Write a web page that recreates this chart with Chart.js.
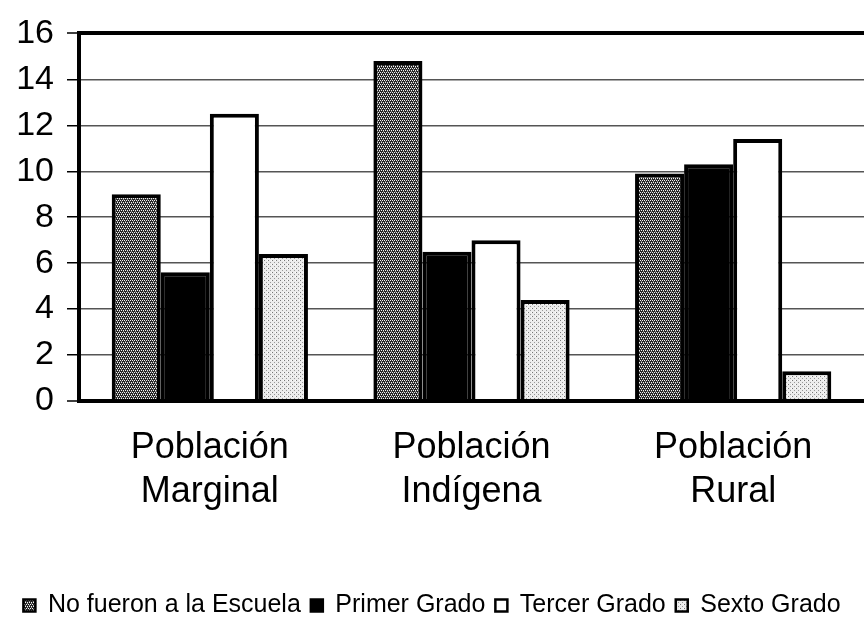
<!DOCTYPE html>
<html>
<head>
<meta charset="utf-8">
<script src="https://cdn.jsdelivr.net/npm/chart.js@4.4.1/dist/chart.umd.min.js"></script>
<style>
html, body { margin: 0; padding: 0; background: #fff; }
#wrap { width: 864px; height: 628px; }
</style>
</head>
<body>
<div id="wrap"><canvas id="myChartEscuela"></canvas></div>
<script>
// datos
var categorias = [['Población', 'Marginal'], ['Población', 'Indígena'], ['Población', 'Rural']];
var noFueron = [9.0, 14.8, 9.9];
var primerGrado = [5.6, 6.5, 10.3];
var tercerGrado = [12.5, 7.0, 11.4];
var sextoGrado = [6.4, 4.4, 1.3];
var yMin = 0, yMax = 16, yPaso = 2;

// tramas tipo impresora
function trama(fondo, puntos) {
    var c = document.createElement('canvas');
    c.width = 4; c.height = 4;
    var g = c.getContext('2d');
    g.fillStyle = fondo;
    g.fillRect(0, 0, 4, 4);
    puntos.forEach(function (p) {
        g.fillStyle = p[2];
        g.fillRect(p[0], p[1], 1, 1);
    });
    return g.createPattern(c, 'repeat');
}
var tramaOscura = trama('#262626', [[0, 0, '#f4f4f4'], [2, 0, '#f4f4f4'], [1, 2, '#f4f4f4'], [3, 2, '#f4f4f4'], [1, 1, '#888'], [3, 3, '#888']]);
var tramaClara = trama('#ececec', [[0, 0, '#777'], [2, 2, '#999'], [3, 0, '#fff']]);

var fuente = "'Liberation Sans', Arial, sans-serif";

var ctx = document.getElementById('myChartEscuela').getContext('2d');
var myChartEscuela = new Chart(ctx, {
    type: 'bar',
    data: {
        labels: categorias,
        datasets: [{
            label: 'No fueron a la Escuela',
            data: noFueron,
            backgroundColor: tramaOscura
        }, {
            label: 'Primer Grado',
            data: primerGrado,
            backgroundColor: '#000'
        }, {
            label: 'Tercer Grado',
            data: tercerGrado,
            backgroundColor: '#fff'
        }, {
            label: 'Sexto Grado',
            data: sextoGrado,
            backgroundColor: tramaClara
        }]
    },
    options: {
        responsive: true,
        maintainAspectRatio: false,
        animation: false,
        layout: { padding: { top: 25, left: 0, right: 0, bottom: 0 } },
        datasets: {
            bar: {
                borderColor: '#000',
                borderWidth: 4,
                categoryPercentage: 0.75,
                barPercentage: 1.0
            }
        },
        scales: {
            x: {
                grid: { display: false, drawTicks: false },
                border: { display: true, color: '#000', width: 4 },
                ticks: {
                    color: '#000',
                    font: { family: fuente, size: 36, lineHeight: 1.22 },
                    padding: 25,
                    maxRotation: 0,
                    autoSkip: false
                },
                afterFit: function (scale) { scale.height = 182; }
            },
            y: {
                min: yMin,
                max: yMax,
                grid: {
                    color: function (c) { return (c.tick && (c.tick.value === yMax || c.tick.value === yMin)) ? '#000' : '#555'; },
                    lineWidth: function (c) { return (c.tick && (c.tick.value === yMax || c.tick.value === yMin)) ? 4 : 1.5; },
                    tickColor: '#000',
                    tickWidth: 1.5,
                    tickLength: 12
                },
                border: { display: true, color: '#000', width: 4 },
                ticks: {
                    stepSize: yPaso,
                    color: '#000',
                    font: { family: fuente, size: 34 },
                    padding: 13
                },
                afterFit: function (scale) { scale.width = 79; }
            }
        },
        plugins: {
            tooltip: { enabled: false },
            legend: {
                position: 'bottom',
                labels: {
                    color: '#000',
                    font: { family: fuente, size: 25 },
                    boxWidth: 12,
                    boxHeight: 12,
                    padding: 10,
                    generateLabels: function (chart) {
                        return Chart.defaults.plugins.legend.labels.generateLabels(chart).map(function (l) {
                            l.lineWidth = 2.5;
                            l.strokeStyle = '#000';
                            return l;
                        });
                    }
                }
            }
        }
    }
});
</script>
</body>
</html>
